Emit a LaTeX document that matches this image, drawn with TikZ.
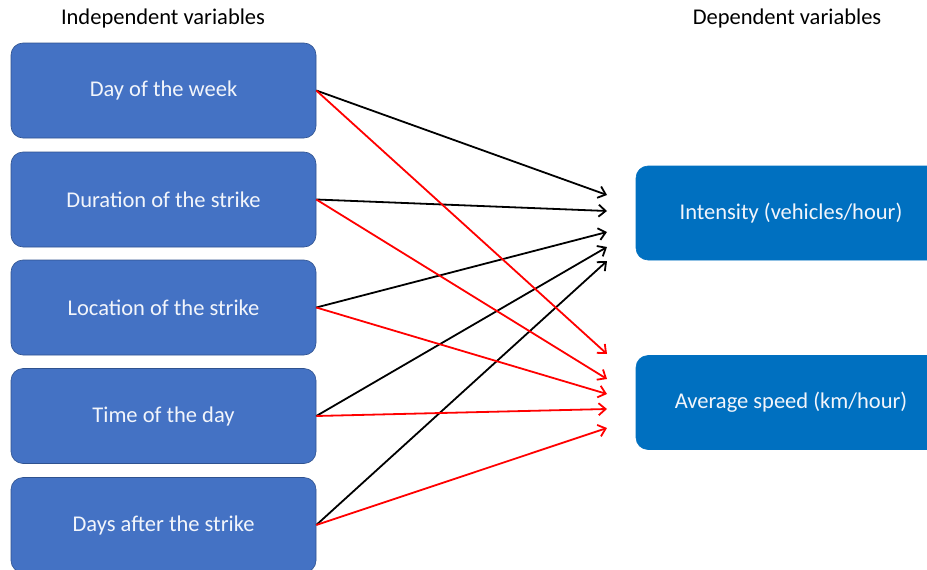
\documentclass[tikz,border=0pt]{standalone}
\usepackage{fontspec}
\setmainfont{Carlito}
\usetikzlibrary{arrows.meta}
\definecolor{indep}{HTML}{4472C4}
\definecolor{dep}{HTML}{0070C0}
\definecolor{rim}{HTML}{2F528F}
\begin{document}
\begin{tikzpicture}[x=1pt,y=-1pt,
  var/.style={draw=rim, line width=0.6pt, fill=indep, rounded corners=12pt,
    minimum width=305pt, minimum height=95pt, text=white!93!indep,
    font=\fontsize{22.5}{27}\selectfont},
  outvar/.style={var, draw=dep, fill=dep, minimum width=310pt, minimum height=94pt},
  head/.style={font=\fontsize{22.5}{27}\selectfont},
  link/.style={line width=1.8pt, -{Straight Barb[length=7pt,width=12pt,line width=1.8pt]}}]
\clip (0,0) rectangle (927,570);

% Titulos
\node[head] (indhead) at (163,19) {Independent variables};
\node[head] (dephead) at (787,19) {Dependent variables};

% Variables independientes
\node[var] (day)  at (163.5,90.5) {Day of the week};
\node[var] (dur)  at (163.5,199.5) {Duration of the strike};
\node[var] (loc)  at (163.5,307.5) {Location of the strike};
\node[var] (time) at (163.5,416) {Time of the day};
\node[var] (after) at (163.5,525) {Days after the strike};

% Variables dependientes
\node[outvar] (inten) at (791,213) {Intensity (vehicles/hour)};
\node[outvar] (speed) at (791,402.5) {Average speed (km/hour)};

% Puntos de llegada
\coordinate (i1) at (607,195);
\coordinate (i2) at (607,211);
\coordinate (i3) at (607,232);
\coordinate (i4) at (607,247);
\coordinate (i5) at (607,261);
\coordinate (s1) at (607,354);
\coordinate (s2) at (607,379);
\coordinate (s3) at (607,394);
\coordinate (s4) at (607,409);
\coordinate (s5) at (607,428);

% Flechas a la intensidad
\draw[link] (day.east) -- (i1);
\draw[link] (dur.east) -- (i2);
\draw[link] (loc.east) -- (i3);
\draw[link] (time.east) -- (i4);
\draw[link] (after.east) -- (i5);

% Flechas a la velocidad
\draw[link, red] (day.east) -- (s1);
\draw[link, red] (dur.east) -- (s2);
\draw[link, red] (loc.east) -- (s3);
\draw[link, red] (time.east) -- (s4);
\draw[link, red] (after.east) -- (s5);
\end{tikzpicture}
\end{document}
